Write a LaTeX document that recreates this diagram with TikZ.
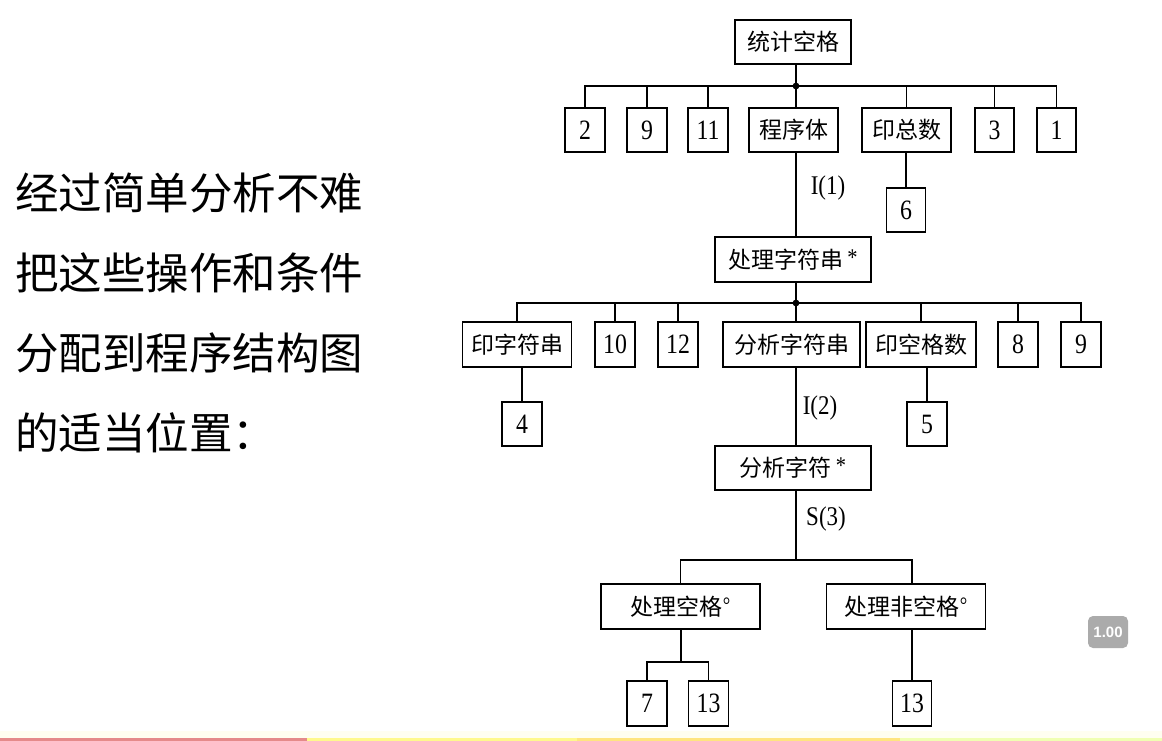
\documentclass[tikz,border=0pt]{standalone}
\usepackage{fontspec}
\setmainfont{Liberation Serif}[FakeStretch=0.85]
\newfontfamily\cjk{Noto Sans CJK SC}
\newfontfamily\badgefont{Liberation Sans}
\newcommand{\supast}{{\rmfamily\fontsize{24}{24}\selectfont\,\raisebox{3pt}{*}}}
\newcommand{\supdeg}{{\rmfamily\fontsize{22}{22}\selectfont\raisebox{3pt}{°}}}
\begin{document}
\begin{tikzpicture}[x=1pt,y=-1pt,
  bx/.style={draw, line width=1.4pt, inner sep=0pt, minimum height=44pt, font=\cjk\fontsize{23}{23}\selectfont},
  numbox/.style={draw, line width=1.4pt, inner sep=0pt, minimum height=44pt, minimum width=40pt, font=\fontsize{28}{28}\selectfont},
  ln/.style={line width=1.4pt},
  lbl/.style={font=\fontsize{27}{27}\selectfont, inner sep=0pt},
  side/.style={font=\cjk\fontsize{43.5}{43.5}\selectfont, anchor=west, inner sep=0pt}]
\useasboundingbox (0,0) rectangle (1162,741);
\fill[white] (0,0) rectangle (1162,741);

% left text
\node[side] (t1) at (15,193) {经过简单分析不难};
\node[side] (t2) at (15,273) {把这些操作和条件};
\node[side] (t3) at (15,353) {分配到程序结构图};
\node[side] (t4) at (15,433) {的适当位置：};

% level 1
\node[bx, minimum width=116pt] (top) at (793,42) {统计空格};
% level 2
\node[numbox] (n2) at (585,130) {2};
\node[numbox] (n9a) at (647,130) {9};
\node[numbox] (n11) at (708,130) {11};
\node[bx, minimum width=89pt] (prog) at (793.5,130) {程序体};
\node[bx, minimum width=89pt] (yzs) at (906.5,130) {印总数};
\node[numbox, minimum width=39pt] (n3) at (994.5,130) {3};
\node[numbox, minimum width=39pt] (n1) at (1056.5,130) {1};
\node[numbox, minimum width=39pt] (n6) at (906,210) {6};
% level 3
\node[bx, minimum width=156pt, minimum height=45pt] (clzfc) at (793,259.5) {处理字符串\supast};
\node[bx, minimum width=109pt, minimum height=45pt] (yzfc) at (517,344.5) {印字符串};
\node[numbox, minimum height=45pt] (n10) at (615,344.5) {10};
\node[numbox, minimum height=45pt] (n12) at (678,344.5) {12};
\node[bx, minimum width=137pt, minimum height=45pt] (fxzfc) at (791.5,344.5) {分析字符串};
\node[bx, minimum width=110pt, minimum height=45pt] (ykgs) at (921,344.5) {印空格数};
\node[numbox, minimum height=45pt] (n8) at (1018,344.5) {8};
\node[numbox, minimum height=45pt] (n9b) at (1081,344.5) {9};
\node[numbox] (n4) at (522,424) {4};
\node[numbox] (n5) at (927,424) {5};
% level 4
\node[bx, minimum width=156pt] (fxzf) at (793,468) {分析字符\supast};
\node[bx, minimum width=159pt, minimum height=45pt] (clkg) at (680.5,606.5) {处理空格\supdeg};
\node[bx, minimum width=159pt, minimum height=45pt] (clfkg) at (906,606.5) {处理非空格\supdeg};
\node[numbox, minimum height=45pt] (n7) at (647,703.5) {7};
\node[numbox, minimum height=45pt] (n13a) at (708.5,703.5) {13};
\node[numbox, minimum width=39pt, minimum height=45pt] (n13b) at (912,703.5) {13};

% labels
\node[lbl] (l1) at (828,188) {I(1)};
\node[lbl] (l2) at (820,408) {I(2)};
\node[lbl] (l3) at (826,519) {S(3)};

% connectors level 1 -> 2
\coordinate (j1) at (796,86);
\draw[ln] (j1 |- top.south) -- (j1);
\fill (j1) circle (3.4pt);
\draw[ln] (n2.north) -- (n2.north |- j1) -- (n1.north |- j1) -- (n1.north);
\foreach \n in {n9a,n11,yzs,n3} \draw[ln] (\n.north) -- (\n.north |- j1);
\draw[ln] (j1) -- (j1 |- prog.north);
\draw[ln] (n6.north) -- (n6.north |- yzs.south);
\draw[ln] (j1 |- prog.south) -- (j1 |- clzfc.north);

% level 3
\coordinate (j2) at (796,303);
\draw[ln] (j2 |- clzfc.south) -- (j2);
\fill (j2) circle (3.4pt);
\draw[ln] (yzfc.north) -- (yzfc.north |- j2) -- (n9b.north |- j2) -- (n9b.north);
\foreach \n in {n10,n12,ykgs,n8} \draw[ln] (\n.north) -- (\n.north |- j2);
\draw[ln] (j2) -- (j2 |- fxzfc.north);
\draw[ln] (n4.north) -- (n4.north |- yzfc.south);
\draw[ln] (n5.north) -- (n5.north |- ykgs.south);
\draw[ln] (j2 |- fxzfc.south) -- (j2 |- fxzf.north);

% level 4
\coordinate (j3) at (796,560);
\coordinate (j5) at (912,560);
\draw[ln] (j3 |- fxzf.south) -- (j3);
\draw[ln] (clkg.north) -- (clkg.north |- j3) -- (j5) -- (j5 |- clfkg.north);
\coordinate (j4) at (681,662);
\draw[ln] (j4 |- clkg.south) -- (j4);
\draw[ln] (n7.north) -- (n7.north |- j4) -- (n13a.north |- j4) -- (n13a.north);
\draw[ln] (n13b.north) -- (n13b.north |- clfkg.south);

% badge
\node[fill=black!33, rounded corners=5pt, minimum width=40pt, minimum height=32pt, inner sep=0pt, text=white, font=\badgefont\bfseries\fontsize{15}{15}\selectfont] (badge) at (1108,632) {1.00};

% bottom strip
\fill[yellow!6] (0,731) rectangle (1162,738);
\fill[red!40!white!90!black] (0,738) rectangle (307,741);
\fill[yellow!45!white] (307,738) rectangle (577,741);
\fill[orange!40!yellow!50!white] (577,738) rectangle (900,741);
\fill[green!20!yellow!30!white] (900,738) rectangle (1162,741);
\end{tikzpicture}
\end{document}
